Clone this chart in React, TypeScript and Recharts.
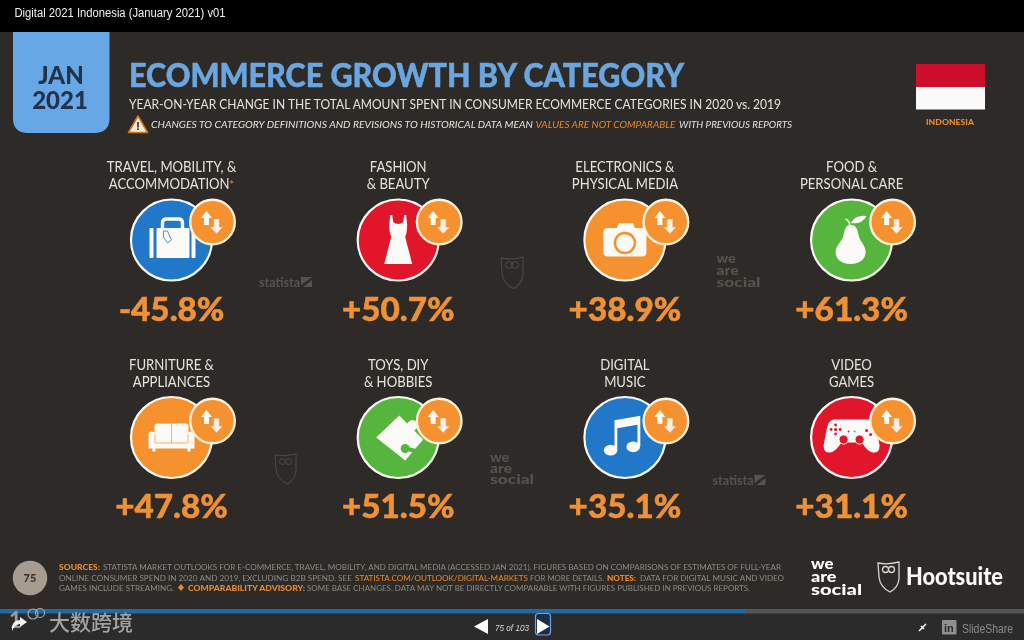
import React from "react";
import { ScatterChart, Scatter, XAxis, YAxis } from "recharts";

const labelLine1 = ["TRAVEL, MOBILITY, &", "FASHION", "ELECTRONICS &", "FOOD &", "FURNITURE &", "TOYS, DIY", "DIGITAL", "VIDEO"];
const labelLine2 = ["ACCOMMODATION", "& BEAUTY", "PHYSICAL MEDIA", "PERSONAL CARE", "APPLIANCES", "& HOBBIES", "MUSIC", "GAMES"];
const growthValues = [-45.8, 50.7, 38.9, 61.3, 47.8, 51.5, 35.1, 31.1];
const iconKinds = ["bag", "dress", "camera", "pear", "sofa", "puzzle", "music", "gamepad"];
const columns = [0, 1, 2, 3, 0, 1, 2, 3];
const rows = [0, 0, 0, 0, 1, 1, 1, 1];

const chartData = growthValues.map((value, i) => ({
  col: columns[i], row: rows[i], value, line1: labelLine1[i], line2: labelLine2[i], icon: iconKinds[i],
}));

const BLUE = "#2178c9", RED = "#e2162b", ORANGE = "#f5922f", GREEN = "#56b53c";
const FILL: Record<string, string> = { bag: BLUE, dress: RED, camera: ORANGE, pear: GREEN, sofa: ORANGE, puzzle: GREEN, music: BLUE, gamepad: RED };
const WHITE = "#fbfaf6";
const BG = "#2e2a27";
const TEXT = "#e6e3dd";
const ACCENT = "#ee9137";
const HEAD = "Lato, sans-serif";

function Icon({ kind }: { kind: string }) {
  const c = FILL[kind];
  switch (kind) {
    case "bag":
      return (
        <g>
          <rect x={-22} y={-12} width={4} height={30} rx={1} fill={WHITE} />
          <rect x={20} y={-12} width={4} height={30} rx={1} fill={WHITE} />
          <rect x={-15} y={-12} width={33} height={30} rx={1} fill={WHITE} />
          <path d="M-9,-12 V-17 Q-9,-21 -5,-21 H7 Q11,-21 11,-17 V-12" fill="none" stroke={WHITE} strokeWidth={3.4} />
          <path d="M-8,-9 L-4,-9 L0,0 L-4,3 L-8,-3 Z" fill={WHITE} stroke={c} strokeWidth={0.8} />
        </g>
      );
    case "dress":
      return <path d="M-6,-25 L-5,-18 Q0,-14 5,-18 L6,-25 L8,-25 L9,-14 Q9,-8 7,-3 L14,24 H-14 L-7,-3 Q-9,-8 -9,-14 L-8,-25 Z" fill={WHITE} />;
    case "camera":
      return (
        <g>
          <path d="M-21.5,-8 Q-21.5,-12 -17,-12 H-8 L-6,-17 H8 L10,-12 H17 Q21.5,-12 21.5,-8 V12 Q21.5,16.5 17,16.5 H-17 Q-21.5,16.5 -21.5,12 Z" fill={WHITE} />
          <circle cx={0} cy={3} r={10} fill={WHITE} stroke={c} strokeWidth={2.5} />
          <circle cx={0} cy={3} r={7} fill={WHITE} />
        </g>
      );
    case "pear":
      return (
        <g>
          <path d="M-1,-15 C5,-15 6,-10 7,-5 C8,1 14,5 14,12 C14,20 7,24 -1,24 C-9,24 -16,20 -16,12 C-16,5 -9,1 -8,-5 C-7,-10 -6,-15 -1,-15 Z" fill={WHITE} />
          <path d="M-2,-15 Q-2,-19 -6,-21" fill="none" stroke={WHITE} strokeWidth={1.5} />
          <path d="M-1,-17 Q5,-26 15,-24 Q10,-15 -1,-17 Z" fill={WHITE} />
        </g>
      );
    case "sofa":
      return (
        <g>
          <rect x={-17} y={-14} width={34} height={20} rx={3} fill={WHITE} />
          <path d="M-23,-3 Q-23,-6 -20,-6 Q-16,-6 -16,-2 V5 H16 V-2 Q16,-6 20,-6 Q23,-6 23,-3 V11 H19 V14 H16 V11 H-16 V14 H-19 V11 H-23 Z" fill={WHITE} />
          <path d="M-16,5.5 H16 M0,-14 V5.5 M-16.5,-3 V5.5 M16.5,-3 V5.5" stroke={c} strokeWidth={0.7} fill="none" />
        </g>
      );
    case "puzzle":
      return (
        <g>
          <path d="M-22,0 L1,-22 L9,-14 Q13,-20 18,-16 Q23,-11 16,-7 L25,2 L7,23 Z" fill={WHITE} />
          <circle cx={7} cy={11} r={4.5} fill={c} />
          <path d="M7,11 L20,14" stroke={c} strokeWidth={4} />
        </g>
      );
    case "music":
      return (
        <g>
          <ellipse cx={-14.3} cy={12.7} rx={6.8} ry={5.4} fill={WHITE} />
          <ellipse cx={8.3} cy={9.3} rx={6.8} ry={5.4} fill={WHITE} />
          <path d="M-9,12 V-16 L14,-20 V9" fill="none" stroke={WHITE} strokeWidth={2.8} />
          <path d="M-9,-16 L14,-20 V-13 L-9,-9 Z" fill={WHITE} />
        </g>
      );
    case "gamepad":
      return (
        <g>
          <path d="M-18,-18 H18 Q23,-18 25,-8 L28,8 Q28,16 21,15 Q17,14 13,9 L10,5 H-10 L-13,9 Q-17,14 -21,15 Q-28,16 -28,8 L-25,-8 Q-23,-18 -18,-18 Z" fill={WHITE} />
          <circle cx={-16} cy={-8} r={1.6} fill={c} />
          <circle cx={-16} cy={-12.5} r={1.4} fill={c} /><circle cx={-16} cy={-3.5} r={1.4} fill={c} />
          <circle cx={-20.5} cy={-8} r={1.4} fill={c} /><circle cx={-11.5} cy={-8} r={1.4} fill={c} />
          <circle cx={-8} cy={2} r={4.6} fill={c} stroke={WHITE} strokeWidth={1} />
          <circle cx={8} cy={2} r={4.6} fill={c} stroke={WHITE} strokeWidth={1} />
          <circle cx={-3} cy={-6} r={1} fill={c} /><circle cx={3} cy={-6} r={1} fill="#4aa6c9" />
          <circle cx={15} cy={-7} r={1.5} fill={c} /><circle cx={19} cy={-3} r={1.5} fill={c} />
        </g>
      );
    default:
      return null;
  }
}

function Cell(props: any) {
  const { cx, cy, payload } = props;
  const p = payload;
  const sign = p.value > 0 ? "+" : "-";
  const txt = `${sign}${Math.abs(p.value).toFixed(1)}%`;
  const smallY = p.row === 0 ? -18 : -16.5;
  const valueY = p.row === 0 ? 81 : 80.5;
  return (
    <g transform={`translate(${cx},${cy})`}>
      <text textAnchor="middle" transform="translate(0,-68) scale(0.9,1)" fontFamily={HEAD} fontSize={14.6} fill={TEXT}>{p.line1}</text>
      <text textAnchor="middle" transform="translate(0,-51) scale(0.9,1)" fontFamily={HEAD} fontSize={14.6} fill={TEXT}>
        {p.line2}
        {p.icon === "bag" ? <tspan fill={ACCENT} fontSize={12}>*</tspan> : null}
      </text>
      <circle r={40.5} fill={FILL[p.icon]} stroke={WHITE} strokeWidth={2.2} />
      <Icon kind={p.icon} />
      <g transform={`translate(41,${smallY})`}>
        <circle r={22.3} fill={ORANGE} stroke="#fbf2dc" strokeWidth={2.4} />
        <path d="M-6,-11 L-0.5,-4 H-3.5 V3 H-8.5 V-4 H-11.5 Z" fill={WHITE} />
        <path d="M4,12 L-2.5,5 H1 V-3 H7 V5 H10.5 Z" fill="#f5efe6" stroke={ORANGE} strokeWidth={0.6} />
      </g>
      <text textAnchor="middle" transform={`translate(0,${valueY}) scale(1.04,1)`} fontFamily={HEAD} fontWeight={900} fontSize={32} fill={ACCENT} stroke={ACCENT} strokeWidth={0.5}>{txt}</text>
    </g>
  );
}

function Owl({ x, y, s, stroke, w = 1 }: any) {
  return (
    <g transform={`translate(${x},${y}) scale(${s})`} fill="none" stroke={stroke} strokeWidth={w}>
      <path d="M0,1 Q10,3 21,0 L21,17 Q20,26 12,30 Q2,25 1,15 Z" />
      <circle cx={7.5} cy={7.5} r={3} /><circle cx={13.5} cy={7.5} r={3} />
    </g>
  );
}

function Wm({ x, ys, w, color }: any) {
  const lines = ["we", "are", "social"];
  const widths = [w * 0.44, w * 0.5, w];
  return (
    <text fontFamily={HEAD} fontWeight={900} fill={color} fontSize={w * 0.31}>
      {lines.map((t, i) => (
        <tspan key={t} x={x} y={ys[i]} textLength={widths[i]} lengthAdjust="spacingAndGlyphs">{t}</tspan>
      ))}
    </text>
  );
}

function Statista({ x, y }: any) {
  const col = "#56534f";
  return (
    <g>
      <text x={x} y={y} fontFamily={HEAD} fontWeight={700} fontSize={13} fill={col} textLength={41} lengthAdjust="spacingAndGlyphs">statista</text>
      <path d={`M${x + 42},${y - 10} H${x + 53} L${x + 42},${y - 2} Z M${x + 53},${y - 7} V${y} H${x + 44} Z`} fill={col} />
    </g>
  );
}

function S({ x, y, w, size, fill, weight = 400, italic = false, font = HEAD, children, stroke }: any) {
  return (
    <text x={x} y={y} fontFamily={font} fontSize={size} fill={fill} fontWeight={weight} fontStyle={italic ? "italic" : "normal"} textLength={w} lengthAdjust="spacingAndGlyphs" stroke={stroke} strokeWidth={stroke ? 0.5 : undefined}>{children}</text>
  );
}

function Backdrop() {
  const grey = "#8d8a83";
  const org = "#e78a2d";
  return (
    <svg width={1024} height={640} style={{ position: "absolute", left: 0, top: 0 }}>
      <rect width={1024} height={640} fill={BG} />
      <rect width={1024} height={32} fill="#000" />
      <S x={14.5} y={16.5} w={211} size={12.5} fill="#f2f2f2" font="Liberation Sans, Arial, sans-serif">Digital 2021 Indonesia (January 2021) v01</S>
      <path d="M13,32 H109.5 V118 Q109.5,133 94,133 H28 Q13,133 13,118 Z" fill="#68a7e6" />
      <text x={61} y={84} textAnchor="middle" fontFamily={HEAD} fontWeight={900} fontSize={24} fill="#22324a">JAN</text>
      <text x={60} y={109} textAnchor="middle" fontFamily={HEAD} fontWeight={900} fontSize={24} fill="#22324a">2021</text>
      <S x={129} y={87} w={555} size={32} weight={900} fill="#6aa6e0" stroke="#6aa6e0">ECOMMERCE GROWTH BY CATEGORY</S>
      <S x={129} y={109} w={652} size={12.6} fill={TEXT}>YEAR-ON-YEAR CHANGE IN THE TOTAL AMOUNT SPENT IN CONSUMER ECOMMERCE CATEGORIES IN 2020 vs. 2019</S>
      <path d="M138,116 L147.5,132.5 H128.5 Z" fill="#f4ead8" stroke="#c9772a" strokeWidth={1.6} strokeLinejoin="round" />
      <rect x={137.2} y={122} width={1.6} height={5.5} fill="#33291f" />
      <rect x={137.2} y={128.3} width={1.6} height={1.7} fill="#33291f" />
      <S x={151} y={128} w={382} size={10} italic fill={TEXT}>CHANGES TO CATEGORY DEFINITIONS AND REVISIONS TO HISTORICAL DATA MEAN</S>
      <S x={535.5} y={128} w={140} size={10} italic fill={org}>VALUES ARE NOT COMPARABLE</S>
      <S x={679} y={128} w={113} size={10} italic fill={TEXT}>WITH PREVIOUS REPORTS</S>
      <rect x={916} y={64} width={69} height={23} fill="#cd0e2c" />
      <rect x={916} y={87} width={69} height={22.5} fill="#fafafa" />
      <S x={926} y={124.5} w={48} size={8} weight={900} fill={org}>INDONESIA</S>

      <Statista x={259} y={287} />
      <Statista x={712.5} y={485} />
      <Owl x={501} y={257} s={1.05} stroke="#4d4a46" />
      <Owl x={275} y={454} s={1} stroke="#4d4a46" />
      <Wm x={716.5} ys={[263, 275, 287]} w={44} color="#55524e" />
      <Wm x={490} ys={[462, 473, 484]} w={44} color="#55524e" />

      <circle cx={30} cy={578} r={17.3} fill="#a69c8f" />
      <text x={30} y={582} textAnchor="middle" fontFamily={HEAD} fontWeight={900} fontSize={11} fill="#3a332c">75</text>

      <S x={59} y={570} w={41} size={8} weight={900} fill={org}>SOURCES:</S>
      <S x={103} y={570} w={678} size={8} fill={grey}>STATISTA MARKET OUTLOOKS FOR E-COMMERCE, TRAVEL, MOBILITY, AND DIGITAL MEDIA (ACCESSED JAN 2021). FIGURES BASED ON COMPARISONS OF ESTIMATES OF FULL-YEAR</S>
      <S x={59} y={581} w={293} size={8} fill={grey}>ONLINE CONSUMER SPEND IN 2020 AND 2019, EXCLUDING B2B SPEND. SEE</S>
      <S x={355} y={581} w={173} size={8} fill={org}>STATISTA.COM/OUTLOOK/DIGITAL-MARKETS</S>
      <S x={530} y={581} w={74} size={8} fill={grey}>FOR MORE DETAILS.</S>
      <S x={607} y={581} w={29} size={8} weight={900} fill={org}>NOTES:</S>
      <S x={640} y={581} w={144} size={8} fill={grey}>DATA FOR DIGITAL MUSIC AND VIDEO</S>
      <S x={59} y={591} w={115} size={8} fill={grey}>GAMES INCLUDE STREAMING.</S>
      <path d="M181,584 L184,587.5 L181,591 L178,587.5 Z" fill={org} />
      <S x={188} y={591} w={117} size={8} weight={900} fill={org}>COMPARABILITY ADVISORY:</S>
      <S x={307} y={591} w={443} size={8} fill={grey}>SOME BASE CHANGES. DATA MAY NOT BE DIRECTLY COMPARABLE WITH FIGURES PUBLISHED IN PREVIOUS REPORTS.</S>

      <Wm x={811} ys={[569, 582, 594.5]} w={51} color="#ffffff" />
      <Owl x={878} y={562} s={1} stroke="#d9d6d0" w={1.3} />
      <S x={906} y={585} w={97} size={24} weight={900} fill="#fbfbfb">Hootsuite</S>

      <rect y={609} width={1024} height={31} fill="#2b2b2c" />
      <rect y={609} width={745} height={4.5} fill="#1f6aa3" />
      <rect x={745} y={609} width={279} height={4.5} fill="#555" />
      <text x={9} y={628} fontFamily={HEAD} fontSize={22} fontWeight={700} fill="#9a9a9a">1</text>
      <circle cx={33} cy={614} r={5} fill="none" stroke="#a8a8a8" strokeWidth={1.2} />
      <circle cx={40} cy={613} r={4.5} fill="none" stroke="#a8a8a8" strokeWidth={1.2} />
      <path d="M12,626 Q14,620 20,620 V617 L27,622 L20,627 V624 Q15,624 12,631 Z" fill="#f4f4f4" />
      <text x={49} y={630} fontFamily="Noto Sans CJK SC" fontSize={21} fontWeight={500} fill="#a3a3a3">大数跨境</text>
      <path d="M488,619 V634 L474,626.5 Z" fill="#fff" />
      <S x={495} y={630.5} w={34} size={9} italic fill="#d5d5d5" font="Liberation Sans, Arial, sans-serif">75 of 103</S>
      <rect x={535.5} y={613.5} width={15} height={21.5} rx={3} fill="#1f2d45" stroke="#6ea4e0" strokeWidth={1.2} />
      <path d="M537,619 V634 L549.5,626.5 Z" fill="#fff" />
      <path d="M919,631 L926,624 M921,626 L924,629" stroke="#eee" strokeWidth={1.6} />
      <rect x={942} y={620} width={14.5} height={14.5} rx={1} fill="#8f8f8f" />
      <text x={944} y={632} fontFamily="Liberation Sans, Arial" fontWeight={700} fontSize={11} fill="#2b2b2c">in</text>
      <S x={962} y={633} w={51} size={12} fill="#8a8a8a" font="Liberation Sans, Arial, sans-serif">SlideShare</S>
    </svg>
  );
}

export default function App() {
  return (
    <div style={{ position: "fixed", left: 0, top: 0, width: 1024, height: 640, overflow: "hidden", background: "#000", filter: "blur(0.4px)" }}>
      <Backdrop />
      <div style={{ position: "absolute", left: 0, top: 0 }}>
        <ScatterChart width={1024} height={640} margin={{ top: 0, right: 0, bottom: 0, left: 0 }}>
          <XAxis type="number" dataKey="col" domain={[-0.7565, 3.7605]} hide />
          <YAxis type="number" dataKey="row" domain={[-1.2152, 2.0253]} reversed hide />
          <Scatter data={chartData} isAnimationActive={false} shape={Cell} />
        </ScatterChart>
      </div>
    </div>
  );
}
